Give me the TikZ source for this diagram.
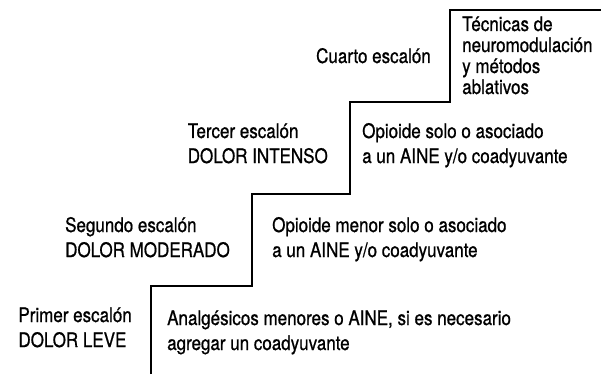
\documentclass[tikz,border=0pt]{standalone}
\usepackage{fontspec}
\setmainfont{TeX Gyre Heros}[FakeStretch=0.85,FakeBold=0.8]
\usetikzlibrary{positioning,calc}
\tikzset{
	stair/.style={line width=2pt, line join=miter},
	stepname/.style={align=left, inner sep=0pt, font=\fontsize{20}{25}\selectfont},
	steptext/.style={align=left, inner sep=0pt, font=\fontsize{20}{25}\selectfont},
	steptight/.style={steptext, font=\fontsize{20}{21}\selectfont}
}
\begin{document}
\begin{tikzpicture}[x=1pt,y=-1pt]
	\useasboundingbox (0,0) rectangle (601,374);
	% corners of the staircase
	\coordinate (s0) at (151,374);
	\coordinate (s1) at (151,286);
	\coordinate (s2) at (252,286);
	\coordinate (s3) at (252,194);
	\coordinate (s4) at (350,194);
	\coordinate (s5) at (350,102);
	\coordinate (s6) at (450,102);
	\coordinate (s7) at (450,10);
	\coordinate (s8) at (601,10);
	\draw[stair] (s0) -- (s1) -- (s2) -- (s3) -- (s4) -- (s5) -- (s6) -- (s7) -- (s8);
	% baselines of the last text line on each step
	\coordinate (b1) at (151,347);
	\coordinate (b2) at (252,257);
	\coordinate (b3) at (350,163);
	\coordinate (b4) at (450,63);
	\coordinate (t1) at (151,350);
	\coordinate (t4) at (450,94);
	\node[stepname, base left=19pt of b1] (name1) {Primer escalón\\DOLOR LEVE};
	\node[stepname, base left=22pt of b2] (name2) {Segundo escalón\\DOLOR MODERADO};
	\node[stepname, base left=22pt of b3] (name3) {Tercer escalón\\DOLOR INTENSO};
	\node[stepname, base left=19pt of b4] (name4) {Cuarto escalón};
	\node[steptext, base right=16pt of t1] (text1) {Analgésicos menores o AINE, si es necesario\\agregar un coadyuvante};
	\node[steptext, base right=20pt of b2] (text2) {Opioide menor solo o asociado\\a un AINE y/o coadyuvante};
	\node[steptext, base right=12pt of b3] (text3) {Opioide solo o asociado\\a un AINE y/o coadyuvante};
	\node[steptight, base right=12pt of t4] (text4) {Técnicas de\\neuromodulación\\y métodos\\ablativos};
\end{tikzpicture}
\end{document}
